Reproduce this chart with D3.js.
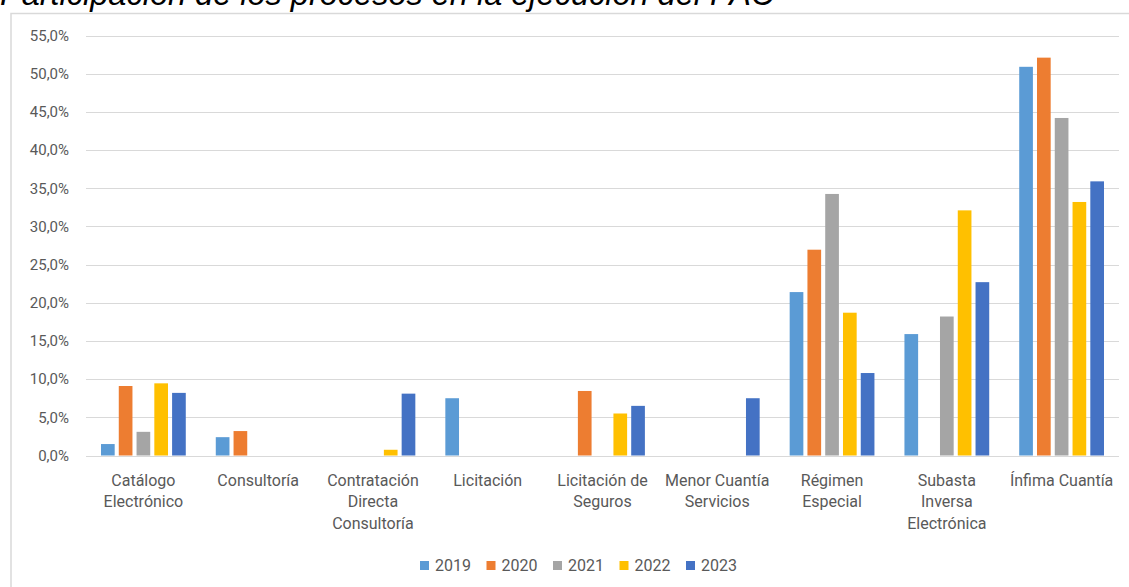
<!DOCTYPE html>
<html><head><meta charset="utf-8">
<script src="https://cdn.jsdelivr.net/npm/d3@7"></script>
<style>
html,body{margin:0;padding:0;background:#fff;overflow:hidden;}
svg{display:block;}
</style></head>
<body>
<script>
const categories = ["Catálogo Electrónico","Consultoría","Contratación Directa Consultoría","Licitación","Licitación de Seguros","Menor Cuantía Servicios","Régimen Especial","Subasta Inversa Electrónica","Ínfima Cuantía"];
const categoryLines = [["Catálogo","Electrónico"],["Consultoría"],["Contratación","Directa","Consultoría"],["Licitación"],["Licitación de","Seguros"],["Menor Cuantía","Servicios"],["Régimen","Especial"],["Subasta","Inversa","Electrónica"],["Ínfima Cuantía"]];
const years = ["2019","2020","2021","2022","2023"];
const v2019 = [1.5, 2.4, 0, 7.5, 0, 0, 21.4, 15.9, 50.9];
const v2020 = [9.1, 3.2, 0, 0, 8.45, 0, 26.95, 0, 52.1];
const v2021 = [3.1, 0, 0, 0, 0, 0, 34.25, 18.2, 44.2];
const v2022 = [9.45, 0, 0.75, 0, 5.5, 0, 18.7, 32.1, 33.2];
const v2023 = [8.2, 0, 8.1, 0, 6.5, 7.5, 10.8, 22.7, 35.9];
const yTicks = [0,5,10,15,20,25,30,35,40,45,50,55];
const colors = ["#5B9BD5","#ED7D31","#A5A5A5","#FFC000","#4472C4"];
const title = "Participación de los procesos en la ejecución del PAC";

const series = [v2019, v2020, v2021, v2022, v2023];
const W = 1129, H = 587;
const svg = d3.select("body").append("svg").attr("width", W).attr("height", H);

// chart border
svg.append("rect").attr("x", 11).attr("y", 13.5).attr("width", W + 20).attr("height", H + 20)
  .attr("fill", "none").attr("stroke", "#d9d9d9").attr("stroke-width", 1.5);

// title
svg.append("text").attr("x", 0).attr("y", 5)
  .attr("font-family", "Liberation Sans, Arial, sans-serif").attr("font-style", "italic")
  .attr("font-size", 32.5).attr("fill", "#000").text(title);

const x0 = d3.scaleBand().domain(categories).range([86, 1119]).padding(0);
const x1 = d3.scaleBand().domain(years).range([15, x0.bandwidth() - 15]).paddingInner(0.23).paddingOuter(0);
const y = d3.scaleLinear().domain([0, 55]).range([455.5, 35.5]);

// gridlines
svg.append("g").selectAll("line").data(yTicks).join("line")
  .attr("x1", 86).attr("x2", 1119)
  .attr("y1", d => Math.round(y(d)) + 0.5).attr("y2", d => Math.round(y(d)) + 0.5)
  .attr("stroke", "#d9d9d9").attr("stroke-width", 1);

// y-axis labels
const yAxis = d3.axisLeft(y).tickValues(yTicks).tickSize(0).tickPadding(0)
  .tickFormat(d => d3.format(".1f")(d).replace(".", ",") + "%");
const gy = svg.append("g").attr("transform", "translate(69,0)").call(yAxis);
gy.select(".domain").remove();
gy.selectAll("text").attr("font-family", "Roboto, sans-serif").attr("font-size", 15).attr("fill", "#595959");

// bars
const groups = svg.append("g").selectAll("g").data(categories).join("g")
  .attr("transform", d => `translate(${x0(d)},0)`);
groups.selectAll("rect").data((d, i) => years.map((yr, k) => ({yr, k, v: series[k][i]})))
  .join("rect")
  .filter(d => d.v > 0)
  .attr("x", d => x1(d.yr)).attr("width", x1.bandwidth())
  .attr("y", d => y(d.v)).attr("height", d => y(0) - y(d.v))
  .attr("fill", d => colors[d.k]);

// x-axis category labels
const xAxis = d3.axisBottom(x0).tickSize(0).tickFormat("");
const gx = svg.append("g").attr("transform", "translate(0,455.5)").call(xAxis);
gx.select(".domain").remove();
gx.selectAll(".tick").each(function(d, i) {
  const t = d3.select(this).append("text").attr("text-anchor", "middle")
    .attr("font-family", "Roboto, sans-serif").attr("font-size", 16).attr("fill", "#595959");
  categoryLines[i].forEach((ln, j) => {
    t.append("tspan").attr("x", 0).attr("y", 30 + j * 21.7).text(ln);
  });
});

// legend
const legend = svg.append("g");
years.forEach((yr, k) => {
  const lx = 420 + k * 66.5;
  legend.append("rect").attr("x", lx).attr("y", 561).attr("width", 9).attr("height", 9).attr("fill", colors[k]);
  legend.append("text").attr("x", lx + 15).attr("y", 571)
    .attr("font-family", "Roboto, sans-serif").attr("font-size", 16).attr("fill", "#595959").text(yr);
});
</script>
</body></html>
